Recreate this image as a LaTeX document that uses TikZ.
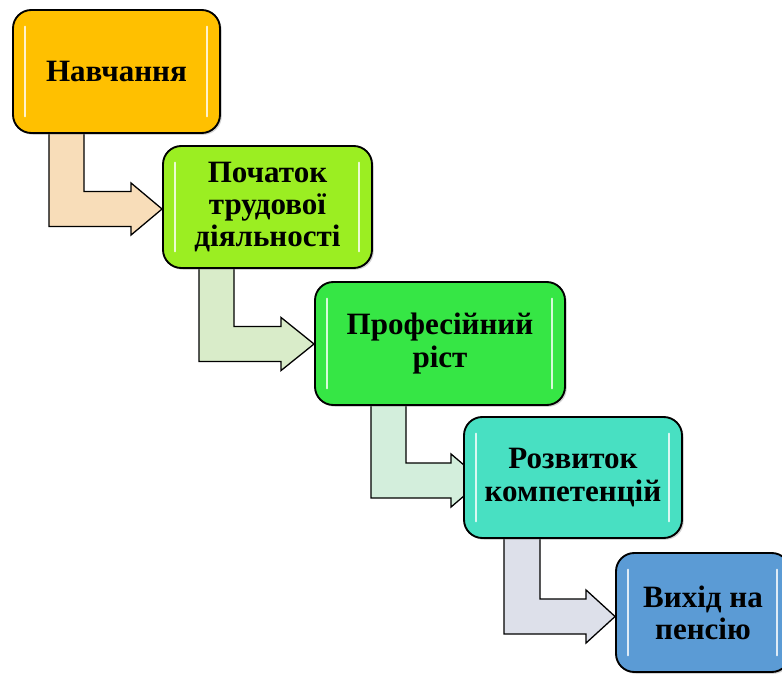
\documentclass[tikz,border=0pt]{standalone}
\usepackage{fontspec}
\setmainfont{Liberation Serif}
\usetikzlibrary{calc,backgrounds,shadows}

\definecolor{navfill}{HTML}{FFC000}
\definecolor{pochfill}{HTML}{9BEE22}
\definecolor{proffill}{HTML}{36E645}
\definecolor{rozvfill}{HTML}{48E0C2}
\definecolor{vyhfill}{HTML}{5B9BD5}
\definecolor{arrnav}{HTML}{F8DDB9}
\definecolor{arrpoch}{HTML}{D9ECC9}
\definecolor{arrprof}{HTML}{D3EEDC}
\definecolor{arrrozv}{HTML}{DDE0EA}

\tikzset{
  stage/.style={draw=black, line width=1.6pt, rounded corners=0.55cm, align=center,
    inner sep=0pt, font=\fontsize{26.5}{27.5}\selectfont\bfseries,
    drop shadow={shadow xshift=1.5pt, shadow yshift=-1.5pt, opacity=0.35},
    path picture={
      \draw[white, opacity=0.8, line width=1.8pt, line cap=round]
        ([xshift=0.36cm,yshift=-0.5cm]path picture bounding box.north west) --
        ([xshift=0.36cm,yshift=0.5cm]path picture bounding box.south west)
        ([xshift=-0.38cm,yshift=-0.5cm]path picture bounding box.north east) --
        ([xshift=-0.38cm,yshift=0.5cm]path picture bounding box.south east);
    }},
  blockarr/.style={draw=black, line width=1.1pt, line join=miter}
}

\begin{document}
\begin{tikzpicture}[x=0.03cm, y=-0.03cm]
\useasboundingbox (0,0) rectangle (782,675);

\node (nav)  at (116.5,71.5) [stage, fill=navfill, minimum width=6.21cm, minimum height=3.69cm] {Навчання};
\node (poch) at (267.5,207)  [stage, fill=pochfill, minimum width=6.27cm, minimum height=3.66cm] {Початок\\трудової\\діяльності};
\node (prof) at (440,343.5)  [stage, fill=proffill, minimum width=7.5cm, minimum height=3.69cm] {Професійний\\ріст};
\node (rozv) at (573,477.5)  [stage, fill=rozvfill, minimum width=6.54cm, minimum height=3.63cm] {Розвиток\\компетенцій};
\node (vyh)  at (703,612.5)  [stage, fill=vyhfill, minimum width=5.22cm, minimum height=3.57cm] {Вихід на\\пенсію};

\begin{scope}[on background layer]
  \coordinate (a1) at ($(nav.south west)+(37,-3)$);
  \draw[blockarr, fill=arrnav] (a1) -- ++(35,0) |- ($(poch.west)+(-31,-15.5)$) -- ++(0,-8.5)
    -- ($(poch.west)+(0,2)$) -- ($(poch.west)+(-31,28)$) -- ++(0,-8.5) -| (a1) -- cycle;
  \coordinate (a2) at ($(poch.south west)+(37,-3)$);
  \draw[blockarr, fill=arrpoch] (a2) -- ++(35,0) |- ($(prof.west)+(-33,-17)$) -- ++(0,-9)
    -- ($(prof.west)+(0,0.5)$) -- ($(prof.west)+(-33,27)$) -- ++(0,-9) -| (a2) -- cycle;
  \coordinate (a3) at ($(prof.south west)+(57,-3)$);
  \draw[blockarr, fill=arrprof] (a3) -- ++(35,0) |- ($(rozv.west)+(-12,-14.5)$) -- ++(0,-9)
    -- ($(rozv.west)+(19,3)$) -- ($(rozv.west)+(-12,29.5)$) -- ++(0,-9) -| (a3) -- cycle;
  \coordinate (a4) at ($(rozv.south west)+(41,-3)$);
  \draw[blockarr, fill=arrrozv] (a4) -- ++(36,0) |- ($(vyh.west)+(-29,-13.5)$) -- ++(0,-9)
    -- ($(vyh.west)+(0,4)$) -- ($(vyh.west)+(-29,30.5)$) -- ++(0,-9) -| (a4) -- cycle;
\end{scope}
\end{tikzpicture}
\end{document}
